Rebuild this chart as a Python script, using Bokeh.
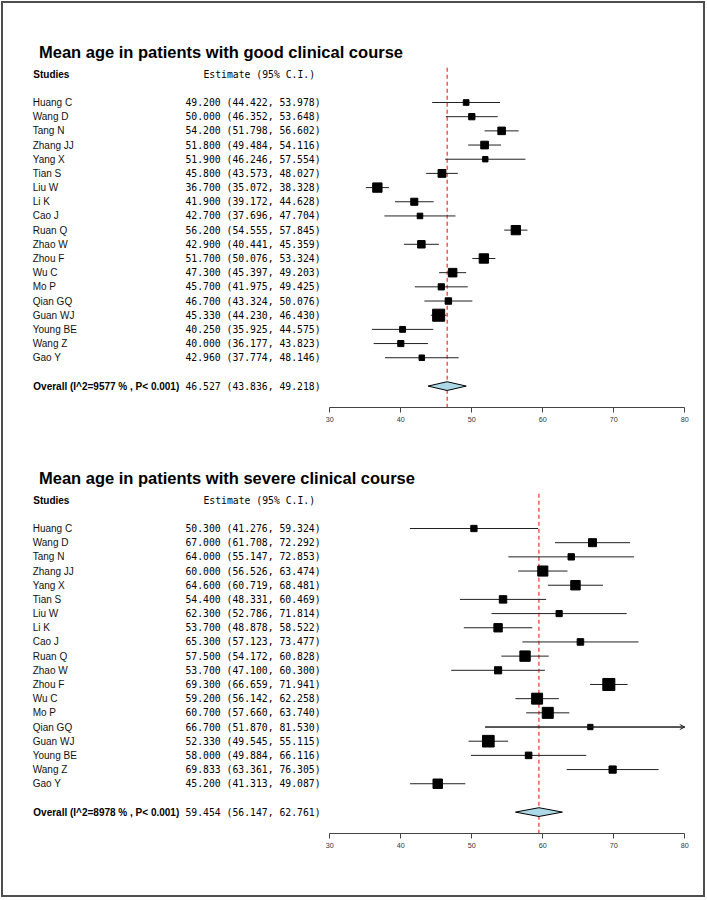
import numpy as np
from bokeh.plotting import figure
from bokeh.models import Range1d, FixedTicker, ColumnDataSource, Arrow, OpenHead
from bokeh.layouts import column
from bokeh.core.properties import value
from bokeh.embed import file_html
from bokeh.resources import INLINE

# ---------------- data ----------------
studies = ["Huang C", "Wang D", "Tang N", "Zhang JJ", "Yang X", "Tian S", "Liu W",
           "Li K", "Cao J", "Ruan Q", "Zhao W", "Zhou F", "Wu C", "Mo P",
           "Qian GQ", "Guan WJ", "Young BE", "Wang Z", "Gao Y"]

good_title = "Mean age in patients with good clinical course"
good_est = [49.200, 50.000, 54.200, 51.800, 51.900, 45.800, 36.700, 41.900, 42.700,
            56.200, 42.900, 51.700, 47.300, 45.700, 46.700, 45.330, 40.250, 40.000, 42.960]
good_lo = [44.422, 46.352, 51.798, 49.484, 46.246, 43.573, 35.072, 39.172, 37.696,
           54.555, 40.441, 50.076, 45.397, 41.975, 43.324, 44.230, 35.925, 36.177, 37.774]
good_hi = [53.978, 53.648, 56.602, 54.116, 57.554, 48.027, 38.328, 44.628, 47.704,
           57.845, 45.359, 53.324, 49.203, 49.425, 50.076, 46.430, 44.575, 43.823, 48.146]
good_overall = [46.527, 43.836, 49.218]
good_overall_label = "Overall (I^2=9577 % , P< 0.001)"

severe_title = "Mean age in patients with severe clinical course"
severe_est = [50.300, 67.000, 64.000, 60.000, 64.600, 54.400, 62.300, 53.700, 65.300,
              57.500, 53.700, 69.300, 59.200, 60.700, 66.700, 52.330, 58.000, 69.833, 45.200]
severe_lo = [41.276, 61.708, 55.147, 56.526, 60.719, 48.331, 52.786, 48.878, 57.123,
             54.172, 47.100, 66.659, 56.142, 57.660, 51.870, 49.545, 49.884, 63.361, 41.313]
severe_hi = [59.324, 72.292, 72.853, 63.474, 68.481, 60.469, 71.814, 58.522, 73.477,
             60.828, 60.300, 71.941, 62.258, 63.740, 81.530, 55.115, 66.116, 76.305, 49.087]
severe_overall = [59.454, 56.147, 62.761]
severe_overall_label = "Overall (I^2=8978 % , P< 0.001)"

axis_ticks = [30, 40, 50, 60, 70, 80]
header_left = "Studies"
header_right = "Estimate (95% C.I.)"

# ---------------- layout constants ----------------
W = 700            # figure width
FRAME_H = 404      # plot frame height (axis line at its bottom)
X0_PX = 326.3      # pixel of x = 30
PPU = 7.1          # pixels per unit
ROW0_PX = 99.0     # pixel of first study row
ROW_PX = 14.18     # row pitch
XMIN, XMAX = axis_ticks[0], axis_ticks[-1]

SANS = value("Liberation Sans")
MONO = value("DejaVu Sans Mono")


def xd(px):
    return XMIN + (px - X0_PX) / PPU


def forest(title, est, lo, hi, overall, overall_label, height):
    est = np.array(est, float)
    lo = np.array(lo, float)
    hi = np.array(hi, float)
    n = len(est)
    rows = np.arange(n, dtype=float)
    ybottom = (FRAME_H - ROW0_PX) / ROW_PX

    p = figure(width=W, height=height,
               x_range=Range1d(xd(0), xd(W)),
               y_range=Range1d(ybottom, -ROW0_PX / ROW_PX),
               output_backend="svg", toolbar_location=None,
               y_axis_location=None,
               min_border_left=0, min_border_right=0, min_border_top=0,
               min_border_bottom=height - FRAME_H)
    p.grid.visible = False
    p.outline_line_color = None
    p.background_fill_color = "white"
    p.border_fill_color = "white"

    ax = p.xaxis[0]
    ax.bounds = (XMIN, XMAX)
    ax.ticker = FixedTicker(ticks=axis_ticks)
    ax.major_tick_in = 0
    ax.major_tick_out = 5
    ax.minor_tick_in = 0
    ax.minor_tick_out = 0
    ax.axis_line_color = "#444444"
    ax.major_tick_line_color = "#444444"
    ax.major_label_text_font = "Liberation Sans"
    ax.major_label_text_font_size = "7.2px"
    ax.major_label_text_color = "#333333"
    ax.major_label_standoff = 4

    # reference line at the pooled estimate
    p.segment(x0=[overall[0]], y0=[-2.45], x1=[overall[0]], y1=[ybottom],
              line_color="red", line_width=1, line_dash="4 3")

    # confidence intervals
    lo_c = np.clip(lo, XMIN, XMAX)
    hi_c = np.clip(hi, XMIN, XMAX)
    p.segment(x0=lo_c, y0=rows, x1=hi_c, y1=rows, line_color="#222222", line_width=1)
    over = hi > XMAX
    if over.any():
        src = ColumnDataSource(dict(x0=lo_c[over], x1=hi_c[over], y=rows[over]))
        p.add_layout(Arrow(end=OpenHead(size=5, line_color="#222222", line_width=1),
                           x_start="x0", y_start="y", x_end="x1", y_end="y",
                           source=src, line_color="#222222", line_width=1))

    # boxes sized by precision (1/se), scaled to 0.5..1.5
    wi = 1.0 / ((hi - lo) / 3.92)
    ps = (wi - wi.min()) / (wi.max() - wi.min()) + 0.5
    sizes = 2 + 6.7 * ps
    p.scatter(x=est, y=rows, size=sizes, marker="square",
              fill_color="black", line_color="black")

    # pooled diamond
    r = n + 1
    h = 0.31
    p.patch(x=[overall[1], overall[0], overall[2], overall[0]],
            y=[r, r - h, r, r + h],
            fill_color="lightblue", line_color="black", line_width=1)

    # texts (vertically centred on their rows)
    mid = "middle"
    p.text(x=[xd(35.5)], y=[-3.56], text=[title], text_font=SANS,
           text_font_size=value("16.5px"), text_font_style="bold",
           text_color="black", text_baseline=mid, text_align="left")
    p.text(x=[xd(29.8)], y=[-2], text=[header_left], text_font=SANS,
           text_font_size=value("10px"), text_font_style="bold",
           text_color="black", text_baseline=mid)
    p.text(x=[xd(200)], y=[-2], text=[header_right], text_font=MONO,
           text_font_size=value("9.75px"), text_color="black",
           text_baseline=mid)
    p.text(x=[xd(29.2)] * n, y=rows, text=studies, text_font=SANS,
           text_font_size=value("10px"), text_color="#111111",
           text_baseline=mid)
    ci_txt = [f"{e:.3f} ({a:.3f}, {b:.3f})" for e, a, b in zip(est, lo, hi)]
    p.text(x=[xd(182)] * n, y=rows, text=ci_txt, text_font=MONO,
           text_font_size=value("9.75px"), text_color="black",
           text_baseline=mid)
    p.text(x=[xd(29.8)], y=[r], text=[overall_label], text_font=SANS,
           text_font_size=value("10px"), text_font_style="bold",
           text_color="black", text_baseline=mid)
    p.text(x=[xd(182)], y=[r],
           text=[f"{overall[0]:.3f} ({overall[1]:.3f}, {overall[2]:.3f})"],
           text_font=MONO, text_font_size=value("9.75px"), text_color="black",
           text_baseline=mid)
    return p


pA = forest(good_title, good_est, good_lo, good_hi, good_overall,
            good_overall_label, 426)
pB = forest(severe_title, severe_est, severe_lo, severe_hi, severe_overall,
            severe_overall_label, 466)

layout = column(pA, pB, spacing=0, margin=(1, 0, 0, 1),
                styles={"border": "2px solid #4d4d4d", "background-color": "white"})

open("out.html", "w").write(file_html(layout, INLINE))
